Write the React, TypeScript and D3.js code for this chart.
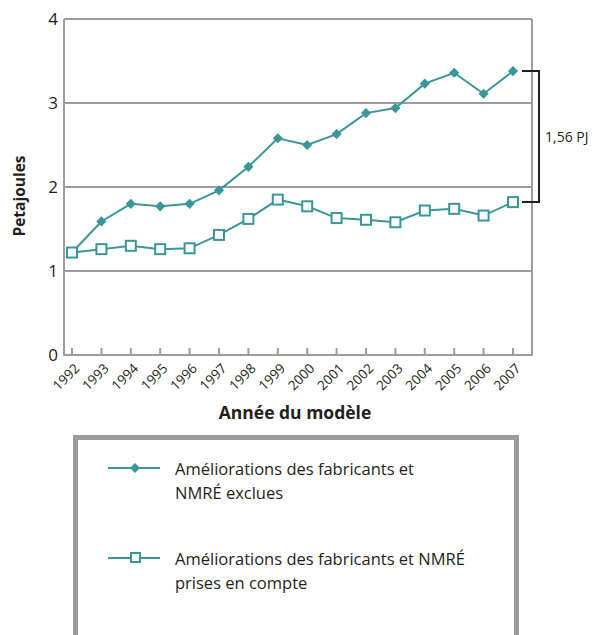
import React, { useEffect, useRef } from 'react';
import * as d3 from 'd3';

const years = ['1992', '1993', '1994', '1995', '1996', '1997', '1998', '1999', '2000', '2001', '2002', '2003', '2004', '2005', '2006', '2007'];
const excluded = [1.22, 1.59, 1.8, 1.77, 1.8, 1.96, 2.24, 2.58, 2.5, 2.63, 2.88, 2.94, 3.23, 3.36, 3.11, 3.38];
const included = [1.22, 1.26, 1.3, 1.26, 1.27, 1.43, 1.62, 1.85, 1.77, 1.63, 1.61, 1.58, 1.72, 1.74, 1.66, 1.82];
const yTicks = [0, 1, 2, 3, 4];
const legendLabels = [
    ['Améliorations des fabricants et', 'NMRÉ exclues'],
    ['Améliorations des fabricants et NMRÉ', 'prises en compte'],
];
const gapLabel = '1,56 PJ';

const teal = '#3a9799';
const gray = '#9d9d9f';
const font = '"Open Sans", "Noto Sans", sans-serif';

function App() {
    const svgRef = useRef<SVGSVGElement>(null);

    useEffect(() => {
        const svg = d3.select(svgRef.current);
        svg.selectAll('*').remove();

        const width = 595;
        const height = 635;
        const left = 64, right = 532, top = 19, bottom = 355;

        const x = d3.scalePoint().domain(years).range([72, 513]);
        const y = d3.scaleLinear().domain([0, 4]).range([bottom, top]);

        svg.append('rect').attr('width', width).attr('height', height).attr('fill', '#fff');

        // gridlines
        svg.append('g').selectAll('line').data(yTicks.slice(1)).join('line')
            .attr('x1', left).attr('x2', right)
            .attr('y1', d => y(d)).attr('y2', d => y(d))
            .attr('stroke', gray).attr('stroke-width', 2);

        // frame: left, right, bottom
        svg.append('path')
            .attr('d', `M${left},${top}V${bottom}H${right}V${top}`)
            .attr('fill', 'none').attr('stroke', gray).attr('stroke-width', 2);

        // x ticks (inward)
        svg.append('g').selectAll('line').data(years).join('line')
            .attr('x1', d => x(d)!).attr('x2', d => x(d)!)
            .attr('y1', bottom).attr('y2', bottom - 7)
            .attr('stroke', gray).attr('stroke-width', 2);

        // y labels
        svg.append('g').selectAll('text').data(yTicks).join('text')
            .attr('x', left - 6).attr('y', d => y(d))
            .attr('dy', '0.36em')
            .attr('text-anchor', 'end')
            .attr('font-family', font).attr('font-size', 17).attr('fill', '#231f20')
            .text(d => d);

        // x labels rotated
        svg.append('g').selectAll('text').data(years).join('text')
            .attr('transform', d => `translate(${x(d)! + 5},${bottom + 11}) rotate(-45)`)
            .attr('text-anchor', 'end')
            .attr('dy', '0.35em')
            .attr('font-family', font).attr('font-size', 13.5).attr('fill', '#231f20')
            .text(d => d);

        svg.append('text')
            .attr('transform', `translate(25,${(top + bottom) / 2 + 9}) rotate(-90)`)
            .attr('text-anchor', 'middle')
            .attr('font-family', font).attr('font-size', 15.5).attr('font-weight', 'bold').attr('fill', '#231f20')
            .text('Petajoules');

        svg.append('text')
            .attr('x', 295).attr('y', 419)
            .attr('text-anchor', 'middle')
            .attr('font-family', font).attr('font-size', 17.5).attr('font-weight', 'bold').attr('fill', '#231f20')
            .text('Année du modèle');

        const line = d3.line<number>()
            .x((d, i) => x(years[i])!)
            .y(d => y(d));

        svg.append('path').datum(included)
            .attr('d', line).attr('fill', 'none').attr('stroke', teal).attr('stroke-width', 2);
        svg.append('path').datum(excluded)
            .attr('d', line).attr('fill', 'none').attr('stroke', teal).attr('stroke-width', 2);

        const diamond = d3.symbol().type(d3.symbolDiamond2).size(66);

        svg.append('g').selectAll('path').data(excluded).join('path')
            .attr('transform', (d, i) => `translate(${x(years[i])},${y(d)})`)
            .attr('d', diamond())
            .attr('fill', teal);

        svg.append('g').selectAll('rect').data(included).join('rect')
            .attr('x', (d, i) => x(years[i])! - 5).attr('y', d => y(d) - 5)
            .attr('width', 10).attr('height', 10)
            .attr('fill', '#fff').attr('stroke', teal).attr('stroke-width', 2);

        // bracket showing the gap in 2007
        const last = years.length - 1;
        const bx = 539;
        svg.append('path')
            .attr('d', `M${x(years[last])! + 9},${y(excluded[last])}H${bx}V${y(included[last])}H${x(years[last])! + 9}`)
            .attr('fill', 'none').attr('stroke', '#231f20').attr('stroke-width', 2);
        svg.append('text')
            .attr('x', bx + 6).attr('y', (y(excluded[last]) + y(included[last])) / 2)
            .attr('dy', '0.36em')
            .attr('font-family', font).attr('font-size', 14).attr('fill', '#231f20')
            .text(gapLabel);

        // legend box
        svg.append('rect')
            .attr('x', 75.5).attr('y', 437.5).attr('width', 441).attr('height', 210)
            .attr('fill', '#fff').attr('stroke', gray).attr('stroke-width', 5);

        const legendY = [469, 559];
        legendLabels.forEach((lines, i) => {
            const ly = legendY[i];
            svg.append('line')
                .attr('x1', 108).attr('x2', 160).attr('y1', ly - 1).attr('y2', ly - 1)
                .attr('stroke', teal).attr('stroke-width', 2);
            if (i === 0) {
                svg.append('path')
                    .attr('transform', `translate(135,${ly - 1})`)
                    .attr('d', diamond()).attr('fill', teal);
            } else {
                svg.append('rect')
                    .attr('x', 131).attr('y', ly - 6).attr('width', 9).attr('height', 9)
                    .attr('fill', '#fff').attr('stroke', teal).attr('stroke-width', 2);
            }
            lines.forEach((t, j) => {
                svg.append('text')
                    .attr('x', 175).attr('y', ly + j * 24)
                    .attr('dy', '0.36em')
                    .attr('font-family', font).attr('font-size', 16.5).attr('fill', '#231f20')
                    .text(t);
            });
        });
    }, []);

    return (
        <svg ref={svgRef} width={595} height={635}
            style={{ position: 'absolute', left: 0, top: 0, display: 'block' }} />
    );
}

export default App;
